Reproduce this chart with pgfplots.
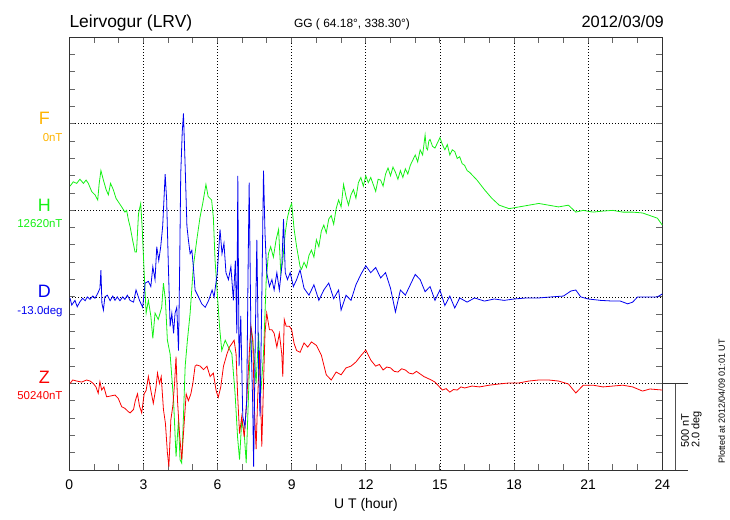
\documentclass[border=0pt]{standalone}
\usepackage{pgfplots}
\pgfplotsset{compat=1.18}
\usepackage{fontspec}
\setmainfont{Liberation Sans}
\definecolor{forange}{RGB}{255,180,0}
\definecolor{hgreen}{RGB}{20,240,20}
\definecolor{dblue}{RGB}{0,0,240}
\definecolor{zred}{RGB}{250,0,0}
\definecolor{frame}{RGB}{50,50,50}
\definecolor{tickc}{RGB}{80,80,80}
\newcommand{\fs}[1]{\fontsize{#1}{#1}\selectfont}
\begin{document}
\begin{tikzpicture}
\useasboundingbox (0bp,0bp) rectangle (730bp,520bp);
\begin{axis}[
  at={(69.3bp,50bp)}, anchor=south west,
  width=593bp, height=432.7bp, scale only axis,
  xmin=0, xmax=24, ymin=0, ymax=25,
  xtick={0,3,...,24}, minor x tick num=2,
  ytick={0,5,...,25}, yticklabels={}, minor y tick num=4,
  tick align=inside, major tick length=6bp, minor tick length=6bp,
  axis line style={frame, line width=0.9bp},
  grid=major,
  /pgf/number format/assume math mode=true,
  xticklabel style={font=\fs{14}, yshift=-6bp},
  clip=false,
]
\pgfplotsset{every tick/.style={black!60, line width=1bp}, every minor tick/.style={black!60, line width=1bp},
  every major grid/.style={black, line width=0.8bp, dash pattern=on 0.8bp off 2.2bp}}
% H
\addplot[hgreen, line width=0.8bp, no marks] coordinates {
(0.03,16.4)(0.16,16.65)(0.3,16.56)(0.43,16.8)(0.57,16.56)(0.68,16.75)(0.77,16.56)(0.91,16.08)(1.04,15.9)(1.15,15.6)(1.21,16.56)(1.28,17.3)(1.38,16.75)(1.49,16.2)(1.58,15.9)(1.67,16.56)(1.78,16.2)(1.89,15.7)(1.98,15.5)(2.12,15.2)(2.25,14.9)(2.32,15.0)(2.4,14.4)(2.46,14.07)
(2.56,13.3)(2.66,12.6)(2.72,12.6)(2.8,14.8)(2.89,15.4)(2.95,14.0)(3.03,11.4)(3.11,9.06)(3.2,9.8)(3.3,8.9)(3.38,7.6)(3.47,9.06)(3.6,8.7)(3.74,9.4)(3.81,10.8)(3.89,9.8)(3.97,7.5)(4.08,6.7)(4.22,4.0)(4.32,0.77)(4.42,2.9)(4.48,0.6)(4.55,0.4)(4.62,3.1)(4.69,6.0)(4.78,7.5)(4.89,9.06)
(5.02,11.75)(5.16,13.3)(5.29,14.6)(5.4,15.4)(5.53,16.5)(5.62,15.8)(5.76,15.6)(5.83,14.6)(5.9,12.1)(5.99,10.2)(6.08,8.3)(6.17,6.9)(6.31,7.5)(6.44,7.1)(6.58,6.7)(6.71,4.4)(6.81,1.9)(6.89,0.6)(6.98,2.9)(7.08,2.1)(7.16,0.4)(7.25,4.2)(7.35,8.3)(7.46,6.9)(7.56,5.0)(7.66,7.9)(7.75,4.4)(7.86,6.7)(7.97,11.0)
(8.06,12.5)(8.15,12.9)(8.26,12.3)(8.37,13.3)(8.47,13.9)(8.56,11.4)(8.64,12.1)(8.74,13.7)(8.83,14.6)(8.94,15.2)(9.0,15.4)(9.1,13.9)(9.2,12.9)(9.34,11.75)
(9.4,11.6)(9.5,12.0)(9.6,11.7)(9.7,12.4)(9.8,12.7)(9.9,12.3)(10.0,13.3)(10.1,12.9)(10.2,13.8)(10.3,14.15)(10.4,13.7)(10.5,14.5)(10.6,14.7)(10.7,14.2)(10.8,15.1)(10.9,15.6)(11.0,15.2)(11.1,16.5)(11.2,15.8)(11.3,15.3)(11.4,15.9)(11.5,16.2)(11.6,15.7)(11.7,16.6)(11.8,16.9)(11.9,16.4)(12.0,17.0)(12.1,16.6)(12.2,16.9)(12.3,16.5)(12.4,16.1)(12.5,16.8)(12.6,16.75)(12.7,16.4)(12.8,17.1)(12.9,17.45)(13.0,17.0)(13.1,17.5)(13.2,17.2)(13.3,16.8)(13.4,17.3)(13.5,16.9)(13.6,17.4)(13.7,17.1)(13.8,17.6)(13.9,17.9)(14.0,18.2)(14.1,17.8)(14.2,18.5)(14.3,18.2)(14.4,19.35)(14.45,18.6)(14.5,18.5)(14.55,19.0)(14.6,19.1)(14.7,18.7)(14.8,18.6)(14.9,18.9)(15.0,19.2)(15.1,18.8)(15.2,18.5)(15.3,18.8)(15.4,18.2)(15.5,18.5)(15.6,18.4)(15.7,18.0)(15.8,18.1)(15.9,17.7)(16.0,17.6)(16.1,17.3)(16.2,17.2)
(16.5,16.75)(16.8,16.2)(17.1,15.7)(17.4,15.3)(17.8,15.1)(18.2,15.2)(18.6,15.3)(19.0,15.4)(19.4,15.3)(19.8,15.2)(20.2,15.3)(20.5,14.9)(20.8,15.0)(21.2,14.9)(21.6,14.96)(22.0,15.0)(22.4,14.9)(22.8,14.9)(23.2,14.85)(23.5,14.7)(23.8,14.55)(24.0,14.15)
};
% Z
\addplot[zred, line width=0.8bp, no marks] coordinates {
(0.03,5.0)(0.14,5.2)(0.3,5.14)(0.5,5.08)(0.7,5.2)(0.84,5.14)(0.97,5.0)(1.08,4.8)(1.17,4.43)(1.24,5.1)(1.31,4.62)(1.4,4.8)(1.51,4.23)(1.65,4.27)(1.85,4.33)(1.98,4.14)(2.12,3.66)(2.25,3.56)(2.39,3.37)(2.46,3.3)
(2.6,3.5)(2.67,4.0)(2.76,4.4)(2.84,3.7)(2.93,3.3)(3.03,4.4)(3.11,4.6)(3.2,5.4)(3.3,4.6)(3.4,3.85)(3.51,4.8)(3.57,5.6)(3.65,5.0)(3.72,5.4)(3.81,3.5)(3.89,2.7)(3.97,1.0)(4.03,0.2)(4.11,2.9)(4.19,3.7)(4.26,5.0)(4.32,6.55)(4.38,4.0)(4.46,2.1)(4.55,0.6)(4.62,2.1)(4.73,4.4)(4.82,4.0)(4.92,4.4)
(5.0,5.0)(5.09,6.0)(5.16,6.07)(5.3,6.0)(5.43,5.8)(5.57,6.0)(5.7,5.4)(5.83,5.6)(5.94,4.6)(6.03,4.2)(6.13,4.8)(6.24,6.0)(6.38,6.7)(6.48,7.1)(6.58,7.3)(6.67,7.5)(6.75,6.7)(6.81,4.4)(6.89,2.1)(6.98,3.1)(7.08,1.9)(7.18,4.0)(7.29,6.9)(7.35,8.3)(7.43,7.5)(7.48,4.0)(7.56,1.2)(7.62,4.0)(7.7,6.9)(7.79,1.35)(7.86,5.0)(7.92,7.9)(7.99,9.06)
(8.1,8.1)(8.2,8.1)(8.29,7.9)(8.4,7.1)(8.5,7.9)(8.6,6.7)(8.64,5.4)(8.7,8.7)(8.78,8.3)(8.91,8.3)(9.0,8.1)(9.1,7.3)(9.2,6.9)(9.34,6.8)
(9.5,7.34)(9.65,7.1)(9.8,7.4)(10.0,7.2)(10.2,6.64)(10.4,5.5)(10.6,5.2)(10.8,5.66)(11.0,5.5)(11.2,5.9)(11.4,6.0)(11.6,6.24)(11.8,6.6)(12.0,6.93)(12.2,6.35)(12.4,6.0)(12.55,6.1)(12.7,5.78)(12.85,5.95)(13.0,5.9)(13.15,5.7)(13.3,5.66)(13.45,5.85)(13.6,5.78)(13.75,5.6)(13.9,5.55)(14.05,5.7)(14.2,5.55)(14.35,5.4)(14.5,5.3)(14.65,5.2)(14.8,5.08)(14.95,4.85)(15.1,4.62)(15.25,4.7)(15.4,4.5)(15.55,4.65)(15.7,4.62)(15.85,4.8)(16.0,4.74)(16.3,4.85)(16.6,4.8)(17.0,4.9)(17.4,4.97)(17.8,5.03)(18.2,5.03)(18.6,5.14)(19.0,5.2)(19.4,5.2)(19.8,5.14)(20.2,4.97)(20.5,4.45)(20.8,4.9)(21.2,4.9)(21.6,4.8)(22.0,4.85)(22.4,4.9)(22.8,4.8)(23.2,4.56)(23.5,4.68)(24.0,4.62)
};
% D
\addplot[dblue, line width=0.8bp, no marks] coordinates {
(0.03,9.92)(0.1,9.53)(0.23,9.8)(0.32,9.43)(0.43,9.72)(0.54,9.92)(0.64,9.78)(0.73,10.0)(0.84,9.86)(0.95,10.05)(1.04,9.92)(1.15,10.2)(1.24,10.5)(1.28,11.55)(1.32,9.63)(1.38,9.24)(1.44,10.0)(1.54,10.1)(1.65,9.78)(1.76,10.05)(1.85,9.8)(1.94,10.0)(2.05,9.78)(2.16,10.0)(2.25,9.86)(2.35,10.1)(2.46,9.8)
(2.6,9.7)(2.7,10.4)(2.84,9.8)(2.97,9.4)(3.07,10.8)(3.2,10.9)(3.3,10.6)(3.38,11.75)(3.47,11.0)(3.54,12.9)(3.62,12.1)(3.7,12.9)(3.78,14.1)(3.88,17.1)(3.94,15.6)(4.01,11.75)(4.08,8.3)(4.15,9.06)(4.22,7.9)(4.28,9.06)(4.35,9.4)(4.42,6.9)(4.46,11.0)(4.51,17.1)(4.57,19.5)(4.62,20.6)(4.69,17.5)(4.76,14.1)(4.82,13.3)(4.89,12.5)(4.96,12.7)
(5.02,11.75)(5.09,10.4)(5.23,10.0)(5.36,9.6)(5.5,9.4)(5.64,9.8)(5.78,10.4)(5.86,10.0)(5.99,11.4)(6.1,13.9)(6.18,12.5)(6.26,13.1)(6.34,11.4)(6.44,11.0)(6.54,11.75)(6.64,9.8)(6.72,12.1)(6.78,7.9)(6.82,17.0)(6.87,6.0)(6.94,8.9)(7.02,3.1)(7.11,2.5)(7.18,4.0)(7.24,12.1)(7.28,16.6)(7.35,7.9)(7.42,4.0)(7.46,0.2)(7.53,7.9)(7.59,13.3)(7.66,6.0)(7.72,3.1)(7.79,9.8)(7.86,17.3)(7.92,13.7)(7.99,11.4)
(8.1,10.6)(8.2,11.0)(8.29,10.4)(8.4,11.4)(8.5,10.4)(8.6,11.75)(8.67,14.5)(8.74,11.4)(8.83,11.0)(8.94,11.4)(9.07,10.6)(9.2,11.0)(9.34,11.56)
(9.5,10.5)(9.7,10.1)(9.9,10.7)(10.1,9.8)(10.3,10.4)(10.5,10.8)(10.7,9.9)(10.9,10.4)(11.0,9.24)(11.2,10.1)(11.4,9.8)(11.6,10.7)(11.8,11.3)(12.0,11.8)(12.2,11.4)(12.4,11.7)(12.6,11.1)(12.8,11.4)(13.0,10.5)(13.2,9.13)(13.4,10.4)(13.6,10.1)(13.8,10.7)(14.0,11.3)(14.2,11.0)(14.4,10.3)(14.6,10.6)(14.8,9.8)(15.0,10.4)(15.2,9.5)(15.4,10.05)(15.6,9.36)(15.8,9.94)
(16.1,9.7)(16.4,9.94)(16.8,9.76)(17.2,9.88)(17.6,9.8)(18.0,9.88)(18.5,9.94)(19.0,9.94)(19.5,10.0)(20.0,10.05)(20.3,10.34)(20.5,10.4)(20.7,10.0)(21.0,9.88)(21.5,9.8)(22.0,9.76)(22.3,9.76)(22.6,9.6)(22.8,9.7)(23.0,10.0)(23.5,10.0)(23.8,10.0)(24.0,10.17)
};
% scale bar
\draw[tickc, line width=0.9bp] (axis cs:24.52,5) -- (axis cs:24.52,0);
\draw[frame, line width=0.9bp] (axis cs:24,5) -- (axis cs:25.04,5);
\draw[frame, line width=0.9bp] (axis cs:24,0) -- (axis cs:25.04,0);
\end{axis}
% titles
\node[anchor=base west, inner sep=0, font=\fs{17.5}] at (69.3bp,492bp) {Leirvogur (LRV)};
\node[anchor=base east, inner sep=0, font=\fs{16.5}] at (664bp,492bp) {2012/03/09};
\node[anchor=base, inner sep=0, font=\fs{12}] at (352bp,492bp) {GG ( 64.18°, 338.30°)};
% component labels
\node[font=\fs{18}, text=forange] at (44.3bp,402bp) {F};
\node[anchor=east, inner sep=0, font=\fs{11.5}, text=forange] at (62.7bp,382.5bp) {0nT};
\node[font=\fs{18}, text=hgreen] at (44.3bp,315bp) {H};
\node[anchor=east, inner sep=0, font=\fs{11.5}, text=hgreen] at (62.7bp,296bp) {12620nT};
\node[font=\fs{18}, text=dblue] at (44.3bp,229bp) {D};
\node[anchor=east, inner sep=0, font=\fs{11.5}, text=dblue] at (62.7bp,208.5bp) {-13.0deg};
\node[font=\fs{18}, text=zred] at (44.3bp,143bp) {Z};
\node[anchor=east, inner sep=0, font=\fs{11.5}, text=zred] at (62.7bp,124bp) {50240nT};
% x label
\node[anchor=base, inner sep=0, font=\fs{14}] at (366bp,12bp) {U T (hour)};
% scale text
\node[rotate=90, anchor=north west, inner sep=0, align=left, font=\fontsize{11}{10.5}\selectfont] at (681bp,72bp) {500 nT\\2.0 deg};
\node[rotate=90, inner sep=0, font=\fs{9}] at (721.7bp,118.5bp) {Plotted at 2012/04/09 01:01 UT};
\end{tikzpicture}
\end{document}
